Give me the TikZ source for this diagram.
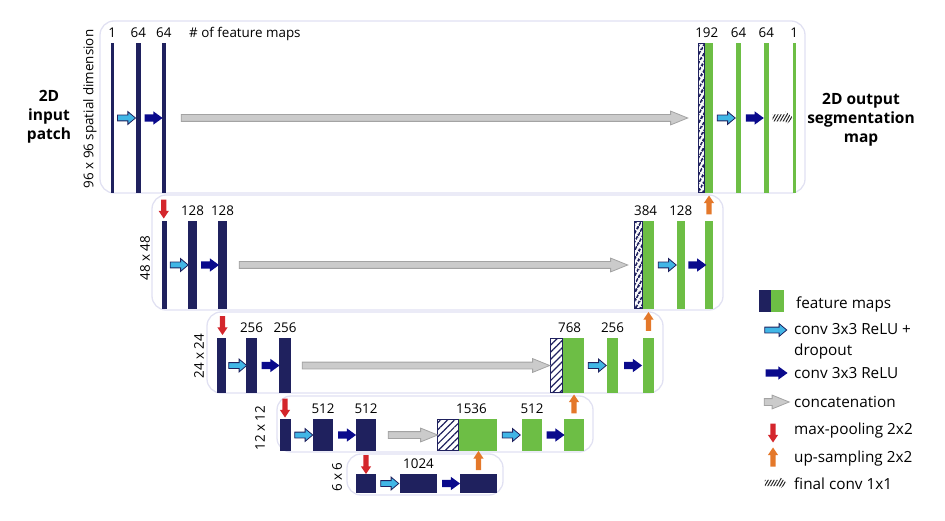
\documentclass[tikz,border=0pt]{standalone}
\usepackage{fontspec}
\setmainfont{Open Sans}
\usepackage{tikz}
\usetikzlibrary{positioning,calc,shapes.arrows,patterns.meta}
\definecolor{navy}{HTML}{1F215E}
\definecolor{leaf}{HTML}{6DBE45}
\definecolor{sky}{HTML}{41B6E6}
\definecolor{deepblue}{HTML}{0A0A8C}
\definecolor{concatgray}{HTML}{CBCBCB}
\definecolor{concatedge}{HTML}{A3A3A3}
\definecolor{poolred}{HTML}{D4262C}
\definecolor{uporange}{HTML}{E4782A}
\definecolor{frame}{HTML}{E1E1F2}

\begin{document}
\begin{tikzpicture}[x=1pt,y=-1pt,font=\fontsize{13.4}{15}\selectfont,
  level/.style={draw=frame,line width=1.3pt,rounded corners=14pt},
  enc/.style={fill=navy,inner sep=0pt,outer sep=0pt,anchor=south west},
  dec/.style={enc,fill=leaf},
  copy/.style={inner sep=0pt,outer sep=0pt,anchor=south west,draw=navy,line width=1.4pt,
    pattern={Lines[angle=45,distance=5pt,line width=1.2pt]},pattern color=navy},
  thincopy/.style={copy,pattern={Lines[angle=60,distance=4pt,line width=2.2pt]}},
  num/.style={inner sep=0pt,anchor=base},
  dim/.style={rotate=90},
  side/.style={font=\bfseries\fontsize{15.5}{18.8}\selectfont,align=center},
  legend/.style={font=\fontsize{15.3}{21}\selectfont,anchor=west,inner sep=0pt,align=left},
  arr/.style={shape=single arrow,inner xsep=0pt,outer sep=0pt,single arrow head indent=0pt},
  convdrop/.style={arr,inner ysep=2.5pt,single arrow head extend=3.5pt,single arrow tip angle=80,
    minimum height=18pt,fill=sky,draw=navy,line width=0.8pt},
  conv/.style={arr,inner ysep=3.5pt,single arrow head extend=3pt,single arrow tip angle=72,
    minimum height=18pt,fill=deepblue},
  concat/.style={arr,inner ysep=3pt,single arrow head extend=3.5pt,single arrow tip angle=44,
    fill=concatgray,draw=concatedge,line width=0.8pt},
  vert/.style={arr,inner ysep=2.5pt,single arrow head extend=2.5pt,single arrow tip angle=68,
    minimum height=19pt},
  pool/.style={vert,rotate=-90,fill=poolred},
  upsamp/.style={vert,rotate=90,fill=uporange},
  final/.style={arr,inner ysep=3pt,single arrow head extend=3pt,single arrow tip angle=80,
    minimum height=21pt,pattern={Lines[angle=60,distance=2.6pt,line width=1pt]},pattern color=black!85}]
  \useasboundingbox (0,0) rectangle (945,521);
  % level frames
  \draw[level] (100,21) rectangle (805,193);
  \draw[level] (152,195) rectangle (723,310);
  \draw[level] (207,312) rectangle (663,393);
  \draw[level] (277,396) rectangle (593,452);
  \draw[level] (347,454) rectangle (503,495);
  % level 1 (96 x 96)
  \node[enc,minimum width=2.5pt,minimum height=150pt] (b11) at (111,193) {};
  \node[enc,minimum width=4.5pt,minimum height=150pt] (b12) at (136,193) {};
  \node[enc,minimum width=4.5pt,minimum height=150pt] (b13) at (161.5,193) {};
  \node[thincopy,minimum width=6pt,minimum height=149pt] (h1) at (698.5,192.5) {};
  \node[dec,minimum width=8pt,minimum height=150pt] (g11) at (705,193) {};
  \node[dec,minimum width=5pt,minimum height=150pt] (g12) at (736,193) {};
  \node[dec,minimum width=5.5pt,minimum height=150pt] (g13) at (763.5,193) {};
  \node[dec,minimum width=2.5pt,minimum height=150pt] (g14) at (793,193) {};
  % level 2 (48 x 48)
  \node[enc,minimum width=5pt,minimum height=88pt] (b21) at (162,309) {};
  \node[enc,minimum width=9pt,minimum height=88pt] (b22) at (188,309) {};
  \node[enc,minimum width=9pt,minimum height=88pt] (b23) at (218,309) {};
  \node[thincopy,minimum width=8pt,minimum height=87pt] (h2) at (634.5,308.5) {};
  \node[dec,minimum width=11pt,minimum height=88pt] (g21) at (643,309) {};
  \node[dec,minimum width=7.5pt,minimum height=88pt] (g22) at (677,309) {};
  \node[dec,minimum width=8pt,minimum height=88pt] (g23) at (705,309) {};
  % level 3 (24 x 24)
  \node[enc,minimum width=9pt,minimum height=55pt] (b31) at (217,393) {};
  \node[enc,minimum width=11pt,minimum height=55pt] (b32) at (246,393) {};
  \node[enc,minimum width=12pt,minimum height=55pt] (b33) at (279,393) {};
  \node[copy,minimum width=12pt,minimum height=54pt] (h3) at (550.5,392.5) {};
  \node[dec,minimum width=21pt,minimum height=55pt] (g31) at (563,393) {};
  \node[dec,minimum width=11pt,minimum height=55pt] (g32) at (607,393) {};
  \node[dec,minimum width=11pt,minimum height=55pt] (g33) at (643,393) {};
  % level 4 (12 x 12)
  \node[enc,minimum width=11pt,minimum height=32pt] (b41) at (280,451) {};
  \node[enc,minimum width=20pt,minimum height=32pt] (b42) at (313,451) {};
  \node[enc,minimum width=20pt,minimum height=32pt] (b43) at (356,451) {};
  \node[copy,minimum width=21pt,minimum height=31pt] (h4) at (437.5,450.5) {};
  \node[dec,minimum width=38pt,minimum height=32pt] (g41) at (459,451) {};
  \node[dec,minimum width=20pt,minimum height=32pt] (g42) at (522,451) {};
  \node[dec,minimum width=20pt,minimum height=32pt] (g43) at (564,451) {};
  % level 5 (6 x 6)
  \node[enc,minimum width=20pt,minimum height=19pt] (b51) at (356,493) {};
  \node[enc,minimum width=37pt,minimum height=19pt] (b52) at (400,493) {};
  \node[enc,minimum width=37pt,minimum height=19pt] (b53) at (460,493) {};
  % numbers of feature maps
  \foreach \b/\n in {b11/1,b12/64,b13/64,g12/64,g13/64,g14/1,b22/128,b23/128,g22/128,
      b32/256,b33/256,g32/256,b42/512,b43/512,g42/512,b52/1024} {
    \node[num] at ([yshift=5.5pt]\b.north) {\n};
  }
  \foreach \h/\g/\n in {h1/g11/192,h2/g21/384,h3/g31/768,h4/g41/1536} {
    \node[num] at ([yshift=5.5pt]$(\h.north west)!.57!(\g.north east)$) {\n};
  }
  \node[num,anchor=base west] at (189,37.5) {\# of feature maps};
  % conv arrows
  \foreach \a/\b/\s in {b11/b12/convdrop,b12/b13/conv,g11/g12/convdrop,g12/g13/conv,
      b21/b22/convdrop,b22/b23/conv,g21/g22/convdrop,g22/g23/conv,
      b31/b32/convdrop,b32/b33/conv,g31/g32/convdrop,g32/g33/conv,
      b41/b42/convdrop,b42/b43/conv,g41/g42/convdrop,g42/g43/conv,
      b51/b52/convdrop,b52/b53/conv} {
    \node[\s] at ($(\a.east)!.5!(\b.west)$) {};
  }
  \node[final] (fin) at ($(g13.east)!.5!(g14.west)$) {};
  % skip connections
  \foreach \a/\b/\gs/\ge in {b13/h1/11/15,b23/h2/8/11,b33/h3/7/5,b43/h4/8/4} {
    \path let \p1=([xshift=\gs pt]\a.east), \p2=([xshift=-\ge pt]\b.west) in
      node[concat,minimum height=\x2-\x1] at ($(\p1)!.5!(\p2)$) {};
  }
  % max-pooling and up-sampling
  \foreach \a/\b in {b13/b21,b23/b31,b33/b41,b43/b51} {
    \node[pool] at ($(\a.south)!.5!(\a.south |- \b.north)$) {};
  }
  \foreach \a/\b in {g23/g11,g33/g22,g43/g32,b53/g41} {
    \node[upsamp] at ($(\a.north)!.5!(\a.north |- \b.south)$) {};
  }
  % side labels
  \node[side] at (49,117) {2D\\input\\patch};
  \node[side] at (861,120) {2D output\\segmentation\\map};
  \node[dim] at (90,109) {96 x 96 spatial dimension};
  \node[dim] at (145,258) {48 x 48};
  \node[dim] at (199,356) {24 x 24};
  \node[dim] at (260,428) {12 x 12};
  \node[dim] at (337,477) {6 x 6};
  % legend
  \node[enc,minimum width=12pt,minimum height=22pt] (keyenc) at (759,312) {};
  \node[dec,minimum width=13pt,minimum height=22pt] (keydec) at (771,312) {};
  \node[legend] at (796,304) {feature maps};
  \node[convdrop,minimum height=22pt] (keydrop) at (774,330) {};
  \node[legend] at (794,341) {conv 3x3 ReLU +\\dropout};
  \node[conv,minimum height=22pt] (keyconv) at (774,373) {};
  \node[legend] at (794,373) {conv 3x3 ReLU};
  \node[concat,minimum height=25pt] (keycat) at (772.5,402) {};
  \node[legend] at (794,402) {concatenation};
  \node[pool] (keypool) at (773,431) {};
  \node[legend] at (794,431) {max-pooling 2x2};
  \node[upsamp] (keyup) at (773,459) {};
  \node[legend] at (794,459) {up-sampling 2x2};
  \node[final,minimum height=22pt] (keyfin) at (774,483) {};
  \node[legend] at (794,484) {final conv 1x1};
\end{tikzpicture}
\end{document}
